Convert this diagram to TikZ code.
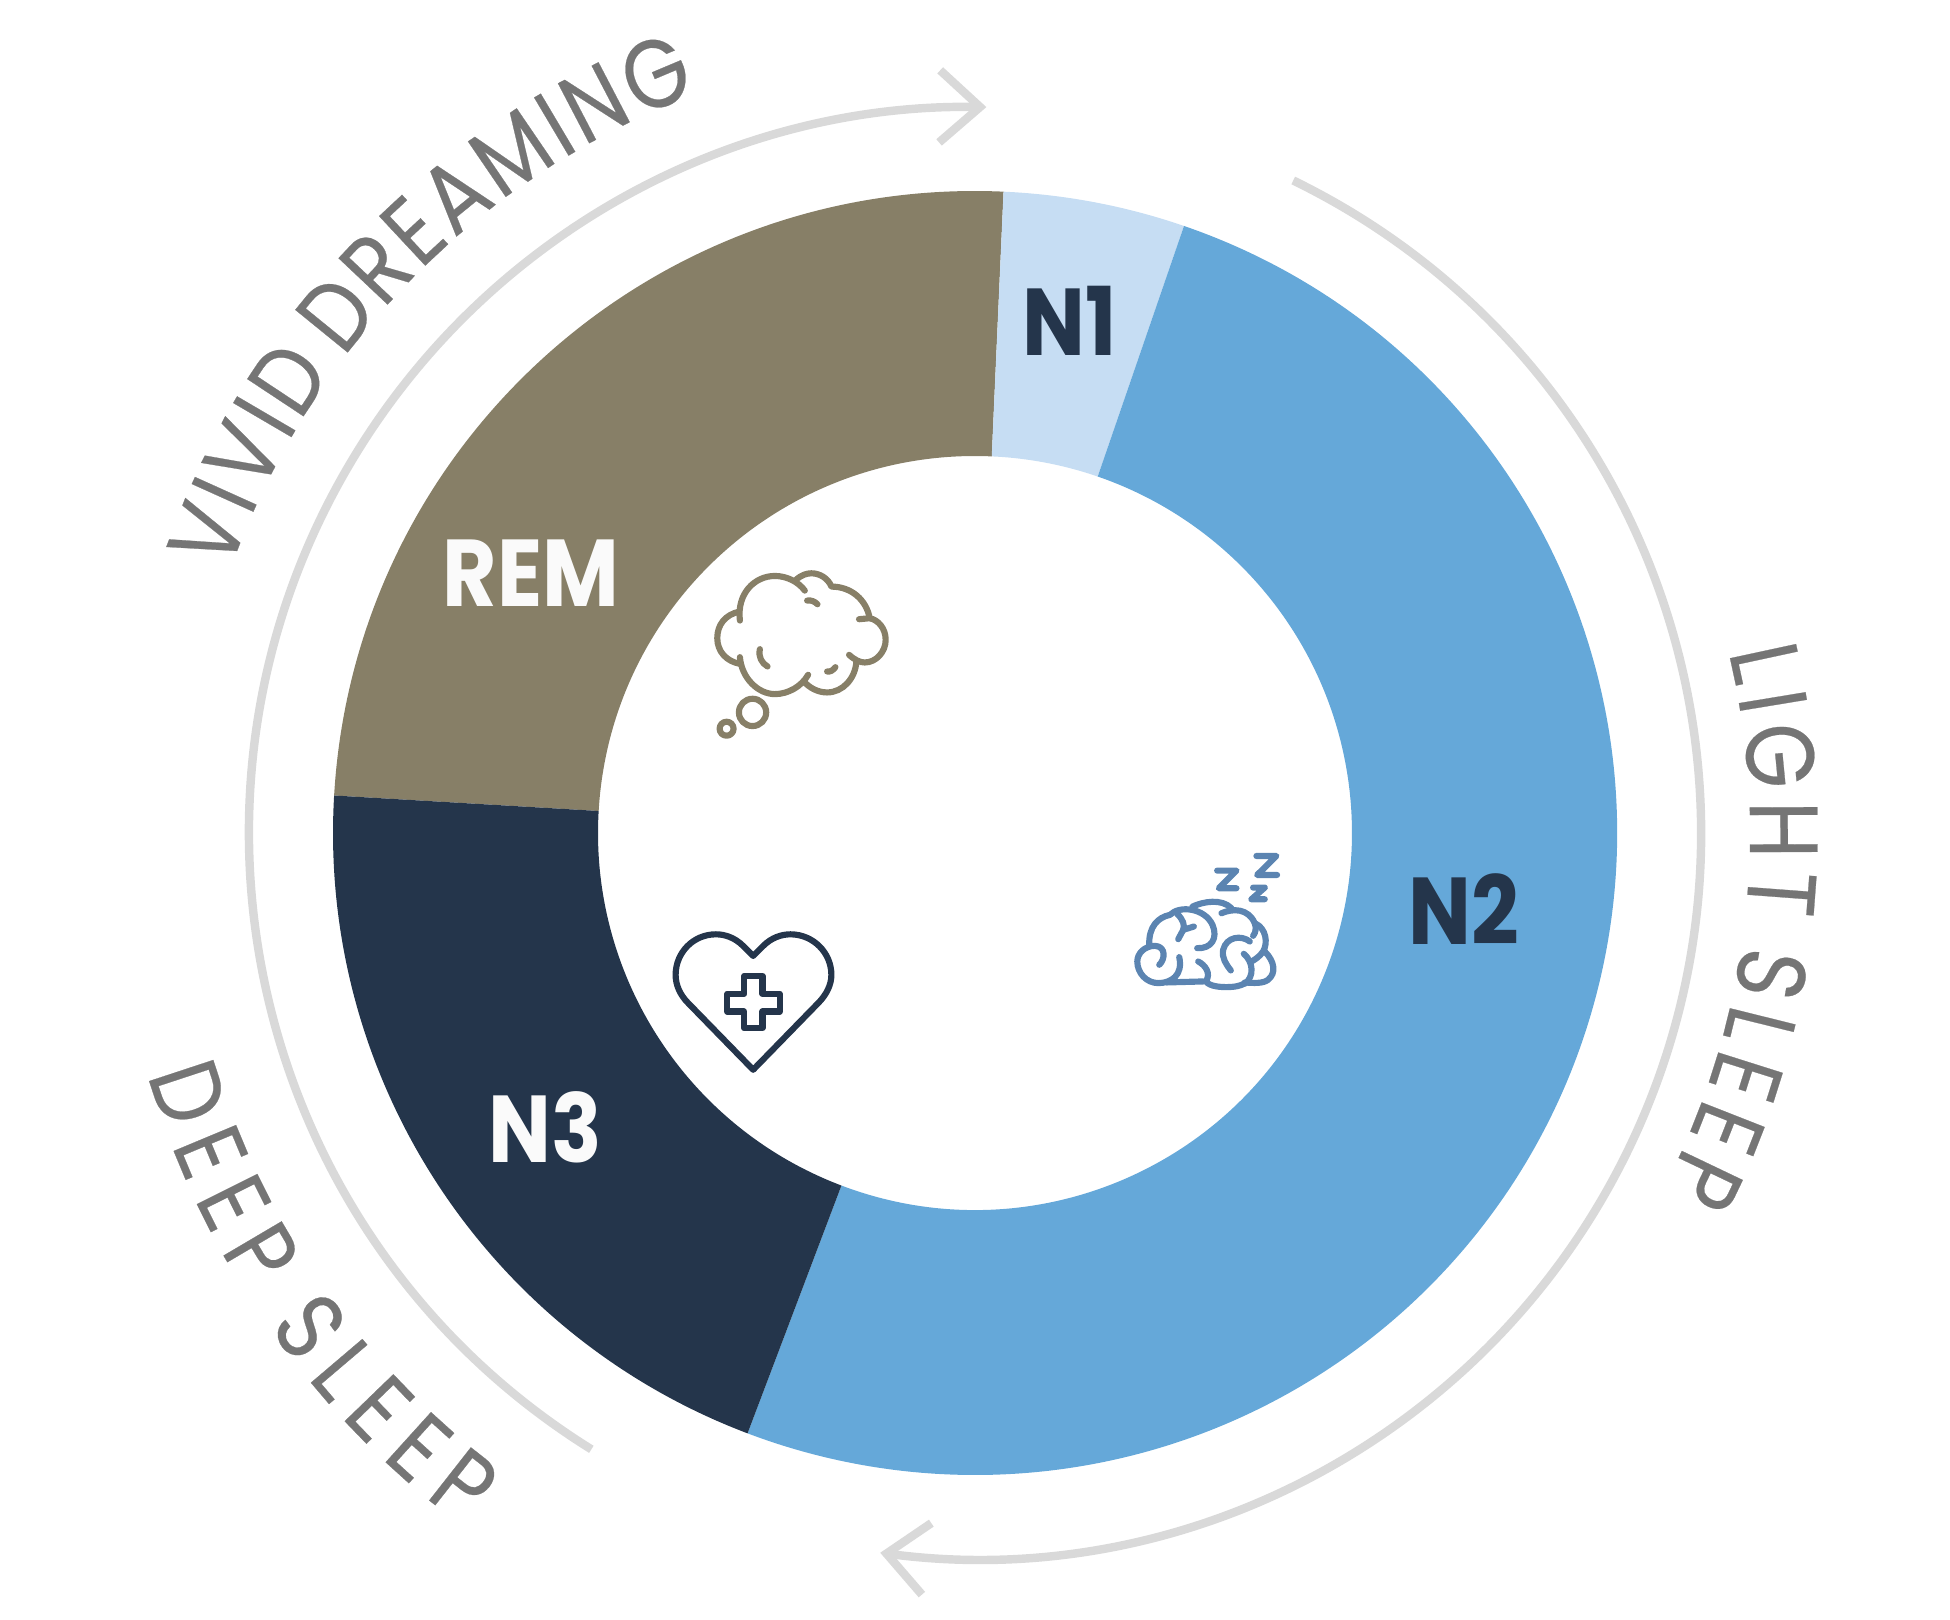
\documentclass[tikz,border=0pt]{standalone}
\usepackage{fontspec}
\setmainfont{Poppins}
\newfontfamily\arcfam[FakeStretch=0.86,FakeBold=0.25]{Poppins}
\newfontfamily\labfam[FakeStretch=0.88]{Poppins}
\usetikzlibrary{arrows.meta,decorations.text}
\definecolor{remcol}{HTML}{877F67}
\definecolor{nonecol}{HTML}{C6DDF3}
\definecolor{ntwocol}{HTML}{65A8D9}
\definecolor{nthreecol}{HTML}{24354B}
\definecolor{braincol}{HTML}{5B84B1}
\definecolor{ringcol}{HTML}{D9D9D9}
\definecolor{arcgray}{HTML}{757575}
\definecolor{offwhite}{HTML}{FAFAFA}
\newcommand{\arcfont}{\arcfam\fontsize{27.5}{30}\selectfont\fontdimen2\font=.12em\relax}
\tikzset{
	stagelab/.style={font=\labfam\fontsize{27}{30}\selectfont\bfseries, inner sep=0pt},
	ringarc/.style={draw=ringcol, line width=2.4pt},
	ringtip/.style={-{Straight Barb[length=11.5pt, width=20.5pt]}},
	iconline/.style={line width=1.75pt, line cap=round, line join=round, x=0.00333cm, y=-0.00333cm},
	arctext/.style={decorate, decoration={text along path, text color=arcgray, text align={fit to path}, text={|\arcfont|#1}}}
}
\begin{document}
\begin{tikzpicture}[x=0.01cm, y=0.01cm]
	\useasboundingbox (-975,-787) rectangle (975,833);
	% donut
	\fill[remcol] (176.65:642) arc[start angle=176.65, end angle=87.45, radius=642] -- (87.45:377) arc[start angle=87.45, end angle=176.65, radius=377] -- cycle;
	\fill[nonecol] (87.45:642) arc[start angle=87.45, end angle=71, radius=642] -- (71:377) arc[start angle=71, end angle=87.45, radius=377] -- cycle;
	\fill[ntwocol] (71:642) arc[start angle=71, end angle=-110.75, radius=642] -- (-110.75:377) arc[start angle=-110.75, end angle=71, radius=377] -- cycle;
	\fill[nthreecol] (249.25:642) arc[start angle=249.25, end angle=176.65, radius=642] -- (176.65:377) arc[start angle=176.65, end angle=249.25, radius=377] -- cycle;
	\node[stagelab, offwhite] (rem) at (-444,260) {REM};
	\node[stagelab, nthreecol] (none) at (95,512) {N1};
	\node[stagelab, nthreecol] (ntwo) at (489,-76) {N2};
	\node[stagelab, offwhite] (nthree) at (-430,-294) {N3};
	% rings
	\draw[ringarc, ringtip] (238.1:726) arc[start angle=238.1, end angle=89.1, radius=726];
	\draw[ringarc, ringtip] (64:726) arc[start angle=64, end angle=-97.5, radius=726];
	% curved texts
	\path[arctext={VIVID DREAMING}] (160.8:790) arc[start angle=160.8, end angle=110.5, radius=790];
	\path[arctext={DEEP SLEEP}] (196.3:862) arc[start angle=196.3, end angle=233.5, radius=862];
	\path[arctext={LIGHT SLEEP}] (13.5:775) arc[start angle=13.5, end angle=-27.3, radius=775];
	% dream icon
	\begin{scope}[shift={(-285,283)}, iconline, draw=remcol]
		\draw (148,185) .. controls (105,195) and (82,225) .. (82,265) .. controls (82,305) and (110,335) .. (150,342);
		\draw (150,212) .. controls (140,130) and (195,78) .. (255,78) .. controls (290,78) and (325,95) .. (345,122);
		\draw (150,322) .. controls (155,385) and (205,433) .. (255,433) .. controls (295,433) and (335,410) .. (355,375);
		\draw (342,395) .. controls (360,415) and (385,428) .. (412,428) .. controls (460,428) and (497,385) .. (500,335);
		\draw (478,315) .. controls (495,330) and (510,338) .. (525,338) .. controls (560,338) and (588,305) .. (588,270) .. controls (588,235) and (565,210) .. (540,205) -- (508,208);
		\draw (540,205) .. controls (530,150) and (485,110) .. (425,110) .. controls (415,85) and (390,70) .. (365,70) .. controls (350,70) and (335,75) .. (318,90);
		\draw (352,152) .. controls (365,150) and (375,155) .. (383,163);
		\draw (210,298) .. controls (205,320) and (215,340) .. (233,350);
		\draw (412,365) .. controls (420,367) and (430,362) .. (437,352);
		\draw (188,488) circle[radius=41];
		\draw (110,537) circle[radius=21];
	\end{scope}
	% sleeping brain icon
	\begin{scope}[shift={(145,-7)}, iconline, draw=braincol]
		\draw (410,48) -- (470,48) -- (412,105) -- (472,105);
		\draw (292,92) -- (350,92) -- (297,145) -- (350,145);
		\draw (400,143) -- (435,143) -- (395,178) -- (435,178);
		\draw (118,375) .. controls (135,360) and (140,320) .. (105,318) .. controls (75,318) and (52,340) .. (52,365) .. controls (52,400) and (80,430) .. (115,430) .. controls (155,430) and (190,405) .. (178,352);
		\draw (140,428) -- (250,425);
		\draw (235,365) .. controls (255,375) and (275,400) .. (258,425) .. controls (270,440) and (300,442) .. (320,442) .. controls (345,442) and (365,438) .. (375,430);
		\draw (88,318) .. controls (85,260) and (115,232) .. (150,225) .. controls (180,195) and (255,205) .. (278,255) .. controls (295,295) and (275,327) .. (232,325);
		\draw (172,222) .. controls (190,240) and (195,255) .. (190,270) -- (175,298);
		\draw (190,270) -- (222,260);
		\draw (218,200) .. controls (250,185) and (305,175) .. (335,205);
		\draw (305,220) .. controls (340,205) and (385,205) .. (405,250) .. controls (410,265) and (408,278) .. (400,288);
		\draw (405,250) .. controls (440,265) and (445,310) .. (430,335) .. controls (420,350) and (405,360) .. (395,365);
		\draw (390,305) .. controls (365,285) and (320,290) .. (310,330) .. controls (305,355) and (320,375) .. (333,392);
		\draw (372,342) .. controls (400,365) and (405,410) .. (375,432);
		\draw (435,335) .. controls (465,365) and (470,400) .. (445,420) .. controls (430,432) and (400,430) .. (375,428);
	\end{scope}
	% heart icon
	\begin{scope}[shift={(-315,-87)}, iconline, draw=nthreecol]
		\draw (280,108) -- (250,78) .. controls (225,53) and (195,43) .. (168,43) .. controls (100,43) and (47,98) .. (47,165) .. controls (47,195) and (60,225) .. (85,250) -- (280,450) -- (475,250) .. controls (500,225) and (515,195) .. (515,165) .. controls (515,98) and (460,43) .. (392,43) .. controls (365,43) and (335,53) .. (310,78) -- cycle;
		\draw (253,168) -- (308,168) -- (308,222) -- (360,222) -- (360,275) -- (308,275) -- (308,325) -- (253,325) -- (253,275) -- (202,275) -- (202,222) -- (253,222) -- cycle;
	\end{scope}
\end{tikzpicture}
\end{document}
